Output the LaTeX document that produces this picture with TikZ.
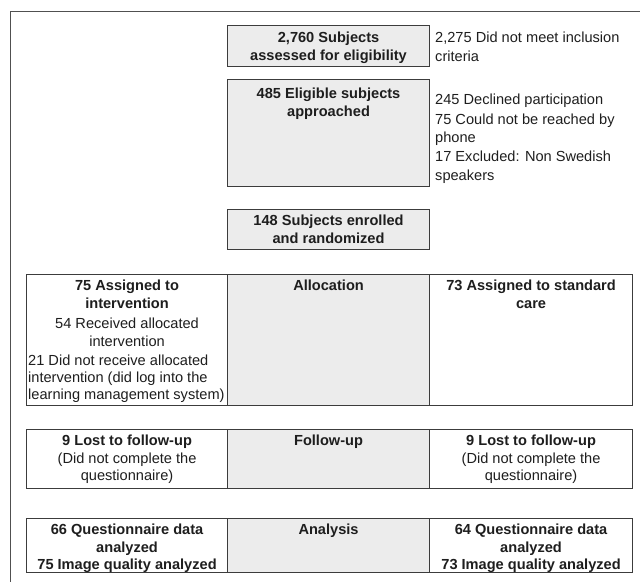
\documentclass[tikz,border=0pt]{standalone}
\usepackage{fontspec}
\setmainfont{Liberation Sans}
\usetikzlibrary{positioning}

\definecolor{boxline}{HTML}{3C3C3C}
\definecolor{boxfill}{HTML}{ECECEC}
\definecolor{framegrey}{HTML}{505050}
\definecolor{inktext}{HTML}{1E1E1E}

\begin{document}
\begin{tikzpicture}[x=1pt,y=-1pt,
grey box/.style={draw=boxline,fill=boxfill,line width=1.1pt,inner sep=0pt,anchor=north west},
white box/.style={draw=boxline,fill=white,line width=1.1pt,inner sep=0pt,anchor=north west},
head text/.style={font=\fontsize{14.6}{17.6}\selectfont\bfseries,text=inktext,align=center,inner sep=0pt},
cell text/.style={font=\fontsize{14.6}{17.6}\selectfont,text=inktext,align=center,inner sep=0pt},
side text/.style={font=\fontsize{14.6}{18.4}\selectfont,text=inktext,align=left,inner sep=0pt,anchor=north west}]

\useasboundingbox (0,0) rectangle (640,582);

% outer frame
\draw[framegrey,line width=1pt] (640,11) -- (10,11) -- (10,582);

% screening
\node[grey box,minimum width=202pt,minimum height=41pt] (assess) at (227,25) {};
\node[grey box,minimum width=202pt,minimum height=107pt] (eligible) at (227,79) {};
\node[grey box,minimum width=202pt,minimum height=40pt] (enrolled) at (227,209) {};

\node[head text,below=7pt of assess.north] (assess text) {2,760 Subjects\\assessed for eligibility};
\node[head text,below=9pt of eligible.north] (eligible text) {485 Eligible subjects\\approached};
\node[head text,below=6pt of enrolled.north] (enrolled text) {148 Subjects enrolled\\and randomized};

\node[side text] (excluded) at (435,32) {2,275 Did not meet inclusion\\criteria};
\node[side text] (declined) at (435,94) {245 Declined participation\\[1pt]75 Could not be reached by\\phone\\[1pt]17 Excluded: Non Swedish\\speakers};

% allocation
\node[white box,minimum width=201pt,minimum height=131pt] (alloc left) at (26,274) {};
\node[white box,minimum width=203pt,minimum height=131pt] (alloc right) at (429,274) {};
\node[grey box,minimum width=202pt,minimum height=131pt] (alloc mid) at (227,274) {};

\node[cell text,below=6pt of alloc left.north] (alloc left text) {\textbf{75 Assigned to}\\\textbf{intervention}\\[2.5pt]54 Received allocated\\intervention};
\node[side text,font=\fontsize{14.6}{17}\selectfont] (not received) at (28,355) {21 Did not receive allocated\\intervention (did log into the\\learning management system)};
\node[head text,below=6pt of alloc mid.north] (alloc mid text) {Allocation};
\node[head text,below=6pt of alloc right.north] (alloc right text) {73 Assigned to standard\\care};

% follow-up
\node[white box,minimum width=201pt,minimum height=59pt] (follow left) at (26,429) {};
\node[white box,minimum width=203pt,minimum height=59pt] (follow right) at (429,429) {};
\node[grey box,minimum width=202pt,minimum height=59pt] (follow mid) at (227,429) {};

\node[cell text,below=6pt of follow left.north] (follow left text) {\textbf{9 Lost to follow-up}\\(Did not complete the\\questionnaire)};
\node[head text,below=6pt of follow mid.north] (follow mid text) {Follow-up};
\node[cell text,below=6pt of follow right.north] (follow right text) {\textbf{9 Lost to follow-up}\\(Did not complete the\\questionnaire)};

% analysis
\node[white box,minimum width=201pt,minimum height=54pt] (analysis left) at (26,518) {};
\node[white box,minimum width=203pt,minimum height=54pt] (analysis right) at (429,518) {};
\node[grey box,minimum width=202pt,minimum height=54pt] (analysis mid) at (227,518) {};

\node[head text,below=6pt of analysis left.north] (analysis left text) {66 Questionnaire data\\analyzed\\75 Image quality analyzed};
\node[head text,below=6pt of analysis mid.north] (analysis mid text) {Analysis};
\node[head text,below=6pt of analysis right.north] (analysis right text) {64 Questionnaire data\\analyzed\\73 Image quality analyzed};

\end{tikzpicture}
\end{document}
